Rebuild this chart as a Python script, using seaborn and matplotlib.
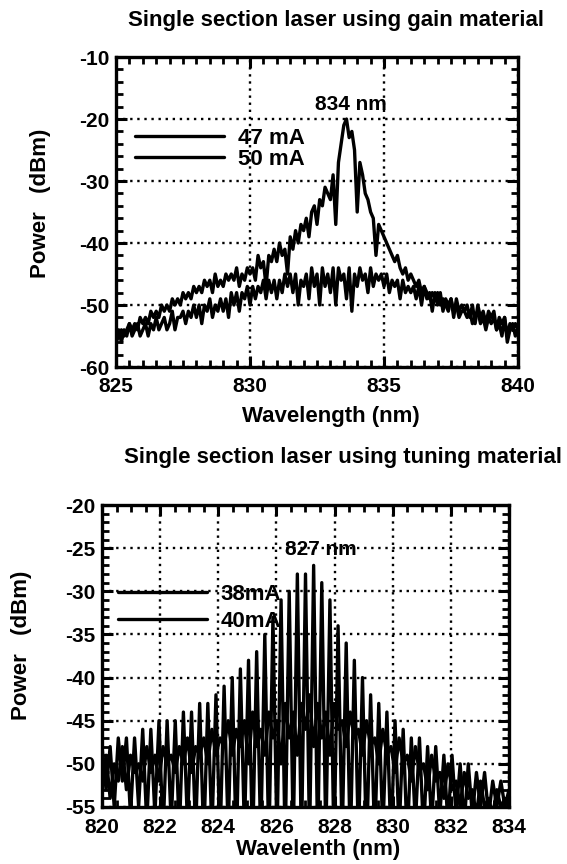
import seaborn as sns
import matplotlib.pyplot as plt
import numpy as np
import pandas as pd
from matplotlib.ticker import MultipleLocator

# --- top panel: gain material, 825-840 nm sampled every 0.1 nm
wl_gain = np.round(np.arange(825.0, 840.01, 0.1), 2)
p_47mA = [
    -55, -54, -56, -54, -55, -53, -55, -54, -53, -55,
    -54, -53, -55, -53, -54, -52, -54, -53, -52, -54,
    -53, -51, -54, -52, -52, -51, -53, -51, -52, -50,
    -52, -50, -53, -50, -51, -49, -52, -50, -51, -49,
    -51, -49, -52, -48, -50, -48, -51, -48, -49, -47,
    -50, -47, -49, -47, -48, -46, -49, -46, -48, -46,
    -49, -46, -48, -45, -47, -45, -48, -45, -50, -46,
    -47, -45, -49, -44, -47, -45, -50, -44, -47, -45,
    -48, -44, -50, -44, -46, -45, -49, -44, -51, -45,
    -47, -44, -46, -45, -48, -44, -47, -45, -46, -45,
    -47, -45, -48, -46, -47, -46, -49, -46, -48, -47,
    -48, -47, -49, -47, -50, -47, -49, -48, -51, -48,
    -50, -48, -51, -49, -50, -49, -52, -49, -51, -50,
    -51, -50, -52, -50, -53, -50, -52, -51, -53, -51,
    -52, -51, -54, -52, -53, -52, -55, -53, -54, -53,
    -54,
]
p_50mA = [
    -56, -55, -54, -55, -54, -53, -54, -53, -54, -52,
    -53, -52, -53, -51, -52, -51, -52, -50, -51, -50,
    -51, -49, -50, -49, -50, -48, -49, -48, -49, -47,
    -48, -47, -48, -46, -47, -46, -48, -45, -47, -46,
    -47, -45, -46, -45, -46, -44, -47, -45, -46, -44,
    -45, -44, -46, -42, -44, -43, -47, -42, -43, -41,
    -43, -40, -42, -41, -45, -39, -41, -38, -40, -37,
    -38, -36, -39, -35, -34, -37, -33, -34, -31, -32,
    -33, -29, -37, -27, -24, -21, -20, -23, -22, -25,
    -35, -27, -29, -32, -33, -35, -36, -42, -37, -38,
    -39, -40, -41, -42, -43, -42, -44, -45, -44, -46,
    -45, -46, -47, -46, -48, -47, -48, -49, -48, -49,
    -48, -50, -49, -50, -51, -49, -51, -50, -52, -51,
    -51, -52, -51, -53, -52, -51, -53, -52, -54, -52,
    -53, -52, -54, -53, -55, -52, -56, -54, -53, -55,
    -54,
]

# --- bottom panel: tuning material, 820-834 nm sampled every 0.14 nm
wl_tune = np.round(np.linspace(820.0, 834.0, 101), 2)
p_38mA = [
    -48, -53, -48, -55, -47, -52, -47, -56, -47, -55,
    -46, -57, -46, -56, -45, -58, -45, -57, -45, -58,
    -44, -57, -44, -58, -43, -59, -43, -58, -42, -59,
    -41, -58, -40, -60, -39, -58, -38, -60, -37, -59,
    -35, -60, -33, -59, -31, -60, -30, -59, -28, -60,
    -28, -59, -27, -60, -29, -59, -31, -60, -34, -59,
    -36, -60, -38, -59, -40, -60, -42, -59, -43, -58,
    -44, -59, -45, -58, -46, -59, -47, -57, -47, -58,
    -48, -57, -48, -56, -49, -57, -49, -56, -50, -57,
    -50, -56, -51, -55, -51, -56, -52, -55, -52, -55,
    -53,
]
p_40mA = [
    -53, -49, -54, -50, -52, -48, -53, -49, -51, -50,
    -52, -48, -51, -49, -52, -48, -50, -49, -51, -48,
    -50, -47, -51, -48, -49, -47, -50, -46, -49, -47,
    -48, -45, -49, -46, -48, -45, -50, -44, -48, -46,
    -49, -44, -47, -45, -50, -43, -47, -44, -49, -43,
    -46, -42, -48, -43, -47, -44, -49, -43, -46, -45,
    -48, -44, -47, -46, -49, -45, -48, -47, -50, -46,
    -49, -48, -51, -47, -50, -49, -52, -48, -51, -50,
    -53, -49, -52, -51, -54, -50, -53, -52, -55, -51,
    -54, -53, -56, -52, -55, -54, -56, -53, -55, -54,
    -55,
]

df_gain = pd.DataFrame({"wl": np.concatenate([wl_gain, wl_gain]),
                        "power": p_47mA + p_50mA,
                        "current": ["47 mA"] * len(wl_gain) + ["50 mA"] * len(wl_gain)})
df_tune = pd.DataFrame({"wl": np.concatenate([wl_tune, wl_tune]),
                        "power": p_38mA + p_40mA,
                        "current": ["38mA"] * len(wl_tune) + ["40mA"] * len(wl_tune)})

sns.set_style("ticks")
plt.rcParams['font.family'] = ['Liberation Sans', 'DejaVu Sans']
plt.rcParams['font.weight'] = 'bold'
plt.rcParams['axes.labelweight'] = 'bold'
plt.rcParams['axes.unicode_minus'] = False
for k in ['text.color', 'axes.labelcolor', 'xtick.color', 'ytick.color']:
    plt.rcParams[k] = 'black'

fig = plt.figure(figsize=(5.67, 8.64), dpi=100)
ax1 = fig.add_axes([0.2046, 0.5752, 0.709, 0.3588])
ax2 = fig.add_axes([0.1799, 0.0660, 0.7178, 0.3495])


def style_axes(ax, xpad):
    for s in ax.spines.values():
        s.set_linewidth(2.4)
        s.set_color('black')
    ax.tick_params(which='major', direction='in', length=8, width=2.2,
                   top=True, right=True, labelsize=15)
    ax.tick_params(which='minor', direction='in', length=5, width=2,
                   top=True, right=True)
    ax.tick_params(axis='x', which='major', pad=xpad)
    ax.tick_params(axis='y', which='major', pad=5)
    ax.grid(True, which='major', linestyle=(0, (1, 2)), color='black', linewidth=1.7)
    for lab in ax.get_xticklabels() + ax.get_yticklabels():
        lab.set_fontweight('bold')


legend_kw = dict(loc='upper left', frameon=False, borderpad=0, borderaxespad=0,
                 handlelength=4.0, handletextpad=0.62,
                 prop={'size': 16, 'weight': 'bold'})
h = [plt.Line2D([], [], color='black', lw=2.4) for _ in range(2)]

# top panel
sns.lineplot(data=df_gain, x="wl", y="power", hue="current",
             palette=["black", "black"], linewidth=2.4, ax=ax1, legend=False,
             estimator=None, sort=False)
ax1.set_xlim(825, 840)
ax1.set_ylim(-60, -10)
ax1.xaxis.set_major_locator(MultipleLocator(5))
ax1.xaxis.set_minor_locator(MultipleLocator(0.5))
ax1.yaxis.set_major_locator(MultipleLocator(10))
ax1.yaxis.set_minor_locator(MultipleLocator(2))
style_axes(ax1, xpad=7)
ax1.set_xlabel("Wavelength (nm)", fontsize=16, fontweight='bold', va='center')
ax1.xaxis.set_label_coords(0.535, -0.158)
ax1.set_ylabel("Power   (dBm)", fontsize=16, fontweight='bold', va='center')
ax1.yaxis.set_label_coords(-0.187, 0.529)
ax1.text(833.77, -17.7, "834 nm", ha='center', va='center', fontsize=15, fontweight='bold')
ax1.legend(h, ["47 mA", "50 mA"], bbox_to_anchor=(0.047, 0.771),
           labelspacing=0.0, **legend_kw)

# bottom panel
sns.lineplot(data=df_tune, x="wl", y="power", hue="current",
             palette=["black", "black"], linewidth=2.4, ax=ax2, legend=False,
             estimator=None, sort=False)
ax2.set_xlim(820, 834)
ax2.set_ylim(-55, -20)
ax2.xaxis.set_major_locator(MultipleLocator(2))
ax2.xaxis.set_minor_locator(MultipleLocator(0.5))
ax2.yaxis.set_major_locator(MultipleLocator(5))
ax2.yaxis.set_minor_locator(MultipleLocator(1))
style_axes(ax2, xpad=8)
ax2.set_xlabel("Wavelenth (nm)", fontsize=16, fontweight='bold', va='center')
ax2.xaxis.set_label_coords(0.53, -0.142)
ax2.set_ylabel("Power   (dBm)", fontsize=16, fontweight='bold', va='center')
ax2.yaxis.set_label_coords(-0.197, 0.536)
ax2.text(827.53, -25.2, "827 nm", ha='center', va='center', fontsize=15, fontweight='bold')
ax2.legend(h, ["38mA", "40mA"], bbox_to_anchor=(0.039, 0.738),
           labelspacing=0.25, **legend_kw)

fig.text(0.593, 0.976, "Single section laser using gain material",
         ha='center', va='center', fontsize=16, fontweight='bold')
fig.text(0.605, 0.471, "Single section laser using tuning material",
         ha='center', va='center', fontsize=16, fontweight='bold')

plt.savefig('out.png', dpi=100)
